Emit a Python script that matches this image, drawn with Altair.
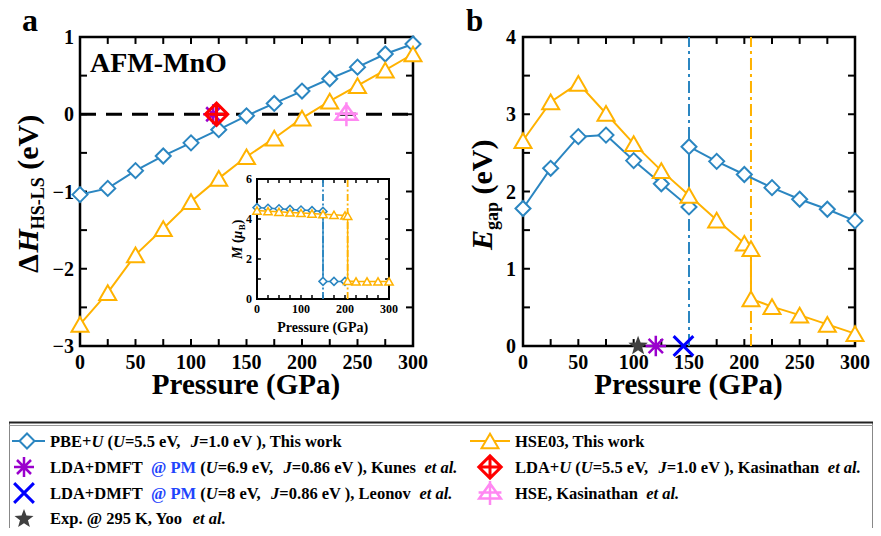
import math
import altair as alt
import pandas as pd

FONT = "Liberation Serif"
BLUE = "#2B86C1"
ORANGE = "#FFB200"
PURPLE = "#9A00CD"
RED = "#FF0000"
PINK = "#FF88F2"
XBLUE = "#0000FF"
STARC = "#404040"
LINK = "#1F45FC"

# ---------------- data ----------------
pressure = [0, 25, 50, 75, 100, 125, 150, 175, 200, 225, 250, 275, 300]
dH_pbe = [-1.04, -0.96, -0.73, -0.54, -0.37, -0.20, -0.02, 0.14, 0.30, 0.46, 0.61, 0.78, 0.91]
dH_hse = [-2.72, -2.31, -1.82, -1.48, -1.13, -0.83, -0.55, -0.31, -0.05, 0.17, 0.37, 0.57, 0.78]

gap_p_pbe = [0, 25, 50, 75, 100, 125, 150, 150, 175, 200, 225, 250, 275, 300]
gap_pbe = [1.78, 2.30, 2.71, 2.73, 2.40, 2.10, 1.80, 2.58, 2.39, 2.22, 2.05, 1.90, 1.77, 1.62]
gap_p_hse = [0, 25, 50, 75, 100, 125, 150, 175, 200, 206, 206, 225, 250, 275, 300]
gap_hse = [2.66, 3.16, 3.40, 3.01, 2.62, 2.27, 1.95, 1.63, 1.33, 1.26, 0.61, 0.51, 0.40, 0.28, 0.16]

mom_p_pbe = [0, 25, 50, 75, 100, 125, 150, 150, 175, 200]
mom_pbe = [4.57, 4.54, 4.51, 4.48, 4.45, 4.42, 4.38, 0.88, 0.88, 0.88]
mom_p_hse = [0, 25, 50, 75, 100, 125, 150, 175, 200, 206, 206, 225, 250, 275, 300]
mom_hse = [4.42, 4.39, 4.36, 4.33, 4.30, 4.27, 4.24, 4.21, 4.18, 4.16, 0.90, 0.88, 0.88, 0.88, 0.88]

trans_pbe = 150
trans_hse = 206

# literature: crossover pressure (dH = 0) and metallisation pressure (Egap = 0)
ref_a_kunes, ref_a_ldau, ref_a_hse = 120, 123, 240
ref_b_yoo, ref_b_kunes, ref_b_leonov = 104, 120, 145

xticks = [0, 25, 50, 75, 100, 125, 150, 175, 200, 225, 250, 275, 300]
xlabels = [0, 50, 100, 150, 200, 250, 300]
ya_ticks = [-3, -2.5, -2, -1.5, -1, -0.5, 0, 0.5, 1]
ya_labels = [1, 0, -1, -2, -3]
yb_ticks = [0, 0.5, 1, 1.5, 2, 2.5, 3, 3.5, 4]
yb_labels = [0, 1, 2, 3, 4]
yi_ticks = [0, 1, 2, 3, 4, 5, 6]
yi_labels = [0, 2, 4, 6]
xi_labels = [0, 100, 200, 300]

# ---------------- geometry ----------------
M = 8
def cx(x): return x - M
def cy(y): return y - M

def S(d, r):
    return alt.Scale(domain=d, range=r, nice=False, zero=False)

sA_x = S([0, 300], [cx(80), cx(413)]); sA_y = S([-3, 1], [cy(346), cy(37)])
sB_x = S([0, 300], [cx(523), cx(855)]); sB_y = S([0, 4], [cy(346), cy(37)])
sI_x = S([0, 300], [cx(257), cx(389)]); sI_y = S([0, 6], [cy(299), cy(179)])

def X(f, s): return alt.X(f"{f}:Q", scale=s, axis=None)
def Y(f, s): return alt.Y(f"{f}:Q", scale=s, axis=None)

def fmt(v):
    return f"{v:g}".replace("-", "\u2212")

def frame(sx, sy, xd, yd, sw, fo=0):
    df = pd.DataFrame({"x0": [xd[0]], "x1": [xd[1]], "y0": [yd[0]], "y1": [yd[1]]})
    return alt.Chart(df).mark_rect(fill="white", fillOpacity=fo, stroke="black", strokeWidth=sw).encode(
        x=X("x0", sx), x2="x1", y=Y("y0", sy), y2="y1")

def axes(sx, sy, xd, yd, xt, yt, lx, ly, sw, xl, yl, fs, xdy, ydx, ydy):
    L = []
    for a, b in [(yd[0], yd[0] + ly), (yd[1], yd[1] - ly)]:
        df = pd.DataFrame({"v": xt, "a": [a] * len(xt), "b": [b] * len(xt)})
        L.append(alt.Chart(df).mark_rule(color="black", strokeWidth=sw).encode(x=X("v", sx), y=Y("a", sy), y2="b"))
    for a, b in [(xd[0], xd[0] + lx), (xd[1], xd[1] - lx)]:
        df = pd.DataFrame({"v": yt, "a": [a] * len(yt), "b": [b] * len(yt)})
        L.append(alt.Chart(df).mark_rule(color="black", strokeWidth=sw).encode(y=Y("v", sy), x=X("a", sx), x2="b"))
    dfx = pd.DataFrame({"v": xl, "a": [yd[0]] * len(xl), "t": [fmt(v) for v in xl]})
    L.append(alt.Chart(dfx).mark_text(font=FONT, fontWeight="bold", fontSize=fs, align="center",
                                      baseline="alphabetic", dy=xdy, color="black").encode(
        x=X("v", sx), y=Y("a", sy), text="t:N"))
    dfy = pd.DataFrame({"v": yl, "a": [xd[0]] * len(yl), "t": [fmt(v) for v in yl]})
    L.append(alt.Chart(dfy).mark_text(font=FONT, fontWeight="bold", fontSize=fs, align="right",
                                      baseline="alphabetic", dx=ydx, dy=ydy, color="black").encode(
        x=X("a", sx), y=Y("v", sy), text="t:N"))
    return L

def series(p, vals, sx, sy, color, shape, size, sw, lw):
    df = pd.DataFrame({"p": p, "v": vals, "i": list(range(len(vals)))})
    base = alt.Chart(df).encode(x=X("p", sx), y=Y("v", sy), order=alt.Order("i:Q"))
    return [base.mark_line(color=color, strokeWidth=lw),
            base.mark_point(shape=shape, size=size, filled=True, fill="white", stroke=color,
                            strokeWidth=sw, opacity=1)]

def vline(p, sx, sy, yd, color, dash, sw):
    df = pd.DataFrame({"p": [p], "a": [yd[0]], "b": [yd[1]]})
    return alt.Chart(df).mark_rule(color=color, strokeWidth=sw, strokeDash=dash).encode(
        x=X("p", sx), y=Y("a", sy), y2="b")

def marker(p, v, sx, sy, shape, size, color, sw, filled=False):
    df = pd.DataFrame({"p": [p], "v": [v]})
    if filled:
        m = alt.Chart(df).mark_point(shape=shape, size=size, filled=True, color=color, opacity=1)
    else:
        m = alt.Chart(df).mark_point(shape=shape, size=size, filled=False, color=color,
                                     strokeWidth=sw, opacity=1)
    return m.encode(x=X("p", sx), y=Y("v", sy))

# custom symbol shapes
ASTER = "M0,-1L0,1M-1,0L1,0M-0.7,-0.7L0.7,0.7M-0.7,0.7L0.7,-0.7"
CROSSX = "M-0.9,-0.9L0.9,0.9M-0.9,0.9L0.9,-0.9"
DIAMP = "M0,-1L1,0L0,1L-1,0Z M0,-1L0,1 M-1,0L1,0"
TRIP = "M0,-0.8L0.9,0.45L-0.9,0.45Z M0,-1L0,1 M-0.95,-0.05L0.95,-0.05"
pts = []
for k in range(10):
    r = 1.0 if k % 2 == 0 else 0.42
    a = math.radians(-90 + 36 * k)
    pts.append(f"{r * math.cos(a):.3f},{r * math.sin(a):.3f}")
STAR = "M" + "L".join(pts) + "Z"

DASHDOT = [12, 4, 3, 4]

# ---------------- panel a ----------------
panelA = alt.layer(
    frame(sA_x, sA_y, [0, 300], [-3, 1], 2.5),
    *axes(sA_x, sA_y, [0, 300], [-3, 1], xticks, ya_ticks, 6.3, 0.09, 2, xlabels, ya_labels, 20, 23, -6, 7),
    alt.Chart(pd.DataFrame({"a": [0], "b": [300], "v": [0]})).mark_rule(
        color="black", strokeWidth=3, strokeDash=[16, 10]).encode(x=X("a", sA_x), x2="b", y=Y("v", sA_y)),
    *series(pressure, dH_pbe, sA_x, sA_y, BLUE, "diamond", 225, 2, 2),
    *series(pressure, dH_hse, sA_x, sA_y, ORANGE, "triangle-up", 289, 2, 2),
    marker(ref_a_kunes, 0, sA_x, sA_y, ASTER, 400, PURPLE, 2.5),
    marker(ref_a_ldau, 0, sA_x, sA_y, DIAMP, 500, RED, 3),
    marker(ref_a_hse, 0, sA_x, sA_y, TRIP, 576, PINK, 2.5),
)

inset = alt.layer(
    frame(sI_x, sI_y, [0, 300], [0, 6], 2, fo=1),
    *axes(sI_x, sI_y, [0, 300], [0, 6], xticks, yi_ticks, 9, 0.2, 1.5, xi_labels, yi_labels, 12, 14, -5, 4),
    vline(trans_pbe, sI_x, sI_y, [0, 6], BLUE, [7, 2.5, 2, 2.5], 1.8),
    vline(trans_hse, sI_x, sI_y, [0, 6], ORANGE, [7, 2.5, 2, 2.5], 1.8),
    *series(mom_p_pbe, mom_pbe, sI_x, sI_y, BLUE, "diamond", 64, 1.5, 1.5),
    *series(mom_p_hse, mom_hse, sI_x, sI_y, ORANGE, "triangle-up", 70, 1.5, 1.5),
)

# ---------------- panel b ----------------
panelB = alt.layer(
    frame(sB_x, sB_y, [0, 300], [0, 4], 2.5),
    *axes(sB_x, sB_y, [0, 300], [0, 4], xticks, yb_ticks, 6.3, 0.09, 2, xlabels, yb_labels, 20, 23, -7, 7),
    vline(trans_pbe, sB_x, sB_y, [0, 4], BLUE, DASHDOT, 2),
    vline(trans_hse, sB_x, sB_y, [0, 4], ORANGE, DASHDOT, 2),
    *series(gap_p_pbe, gap_pbe, sB_x, sB_y, BLUE, "diamond", 225, 2, 2),
    *series(gap_p_hse, gap_hse, sB_x, sB_y, ORANGE, "triangle-up", 289, 2, 2),
    marker(ref_b_yoo, 0, sB_x, sB_y, STAR, 420, STARC, 1, filled=True),
    marker(ref_b_kunes, 0, sB_x, sB_y, ASTER, 420, PURPLE, 2.5),
    marker(ref_b_leonov, 0, sB_x, sB_y, CROSSX, 480, XBLUE, 3),
)

# ---------------- rich text ----------------
TB = {' ': 250, '(': 333, ')': 333, '+': 570, '=': 570, ',': 250, '.': 250, '@': 930, '-': 333,
      'A': 722, 'B': 667, 'C': 722, 'D': 722, 'E': 667, 'F': 611, 'G': 778, 'H': 778, 'I': 389,
      'J': 500, 'K': 778, 'L': 667, 'M': 944, 'N': 722, 'O': 778, 'P': 611, 'S': 556, 'T': 667,
      'U': 722, 'V': 722, 'W': 1000, 'X': 722, 'Y': 722,
      'a': 500, 'b': 556, 'c': 444, 'd': 556, 'e': 444, 'f': 333, 'g': 500, 'h': 556, 'i': 278,
      'k': 556, 'l': 278, 'm': 833, 'n': 556, 'o': 500, 'p': 556, 'r': 444, 's': 389, 't': 333,
      'u': 556, 'v': 500, 'w': 722, 'x': 500, 'y': 500, '\u0394': 680, '\u03bc': 576}
for d in '0123456789':
    TB[d] = 500
TBI = dict(TB)
TBI.update({'M': 889, 't': 278, 'H': 778, 'E': 667, 'J': 500, 'U': 722})

def width(text, style, size):
    tbl = TBI if style == "bi" else TB
    return sum(tbl.get(c, 500) for c in text) / 1000 * size

def run_h(segs, x0, y0):
    out, x = [], x0
    for text, style, size in segs:
        st = text.lstrip(" ")
        x += width(text[:len(text) - len(st)], "b", size)
        t = st.rstrip(" ")
        if t:
            out.append(dict(x=cx(x), y=cy(y0), text=t, style=style, size=size))
        x += width(st, style, size)
    return out

def run_v(segs, xb, y0):
    out, y = [], y0
    for text, style, size, shift in segs:
        st = text.lstrip(" ")
        y -= width(text[:len(text) - len(st)], "b", size)
        t = st.rstrip(" ")
        if t:
            out.append(dict(x=cx(xb + shift), y=cy(y), text=t, style=style, size=size))
        y -= width(st, style, size)
    return out

def text_layers(items, angle=0):
    df = pd.DataFrame(items)
    L = []
    for (style, size), g in df.groupby(["style", "size"]):
        L.append(alt.Chart(g.reset_index(drop=True)).mark_text(
            font=FONT, fontSize=float(size), fontWeight="bold",
            fontStyle="italic" if style == "bi" else "normal",
            color=LINK if style == "blue" else "black",
            align="left", baseline="alphabetic", angle=angle).encode(
            x=alt.X("x:Q", scale=None, axis=None), y=alt.Y("y:Q", scale=None, axis=None), text="text:N"))
    return L

FS = 16.5
legend_left = [
    [("PBE+", "b", FS), ("U", "bi", FS), (" (", "b", FS), ("U", "bi", FS), ("=5.5 eV,  ", "b", FS),
     ("J", "bi", FS), ("=1.0 eV ), This work", "b", FS)],
    [("LDA+DMFT  ", "b", FS), ("@ PM", "blue", FS), (" (", "b", FS), ("U", "bi", FS), ("=6.9 eV,  ", "b", FS),
     ("J", "bi", FS), ("=0.86 eV ), Kunes  ", "b", FS), ("et al.", "bi", FS)],
    [("LDA+DMFT  ", "b", FS), ("@ PM", "blue", FS), (" (", "b", FS), ("U", "bi", FS), ("=8 eV,  ", "b", FS),
     ("J", "bi", FS), ("=0.86 eV ), Leonov  ", "b", FS), ("et al.", "bi", FS)],
    [("Exp. @ 295 K, Yoo  ", "b", FS), ("et al.", "bi", FS)],
]
legend_right = [
    [("HSE03, This work", "b", FS)],
    [("LDA+", "b", FS), ("U", "bi", FS), (" (", "b", FS), ("U", "bi", FS), ("=5.5 eV,  ", "b", FS),
     ("J", "bi", FS), ("=1.0 eV ), Kasinathan  ", "b", FS), ("et al.", "bi", FS)],
    [("HSE, Kasinathan  ", "b", FS), ("et al.", "bi", FS)],
]
row_base = [447, 473, 499, 524]

h_items = []
for r, segs in enumerate(legend_left):
    h_items += run_h(segs, 50, row_base[r])
for r, segs in enumerate(legend_right):
    h_items += run_h(segs, 515, row_base[r])
h_items += run_h([("a", "b", 32)], 22, 31)
h_items += run_h([("b", "b", 31)], 466, 31)
h_items += run_h([("AFM-MnO", "b", 28)], 90, 72)
pw = width("Pressure (GPa)", "b", 29)
h_items += run_h([("Pressure (GPa)", "b", 29)], 246.5 - pw / 2, 394)
h_items += run_h([("Pressure (GPa)", "b", 29)], 689 - pw / 2, 394)
iw = width("Pressure (GPa)", "b", 14)
h_items += run_h([("Pressure (GPa)", "b", 14)], 323 - iw / 2, 332)

v_items = []
v_items += run_v([("\u0394", "b", 30, 0), ("H", "bi", 30, 0), ("HS-LS", "b", 18, 6), (" (eV)", "b", 30, 0)], 38, 273)
v_items += run_v([("E", "bi", 30, 0), ("gap", "b", 18, 6), (" (eV)", "b", 30, 0)], 492, 250)
v_items += run_v([("M", "bi", 14, 0), (" (", "b", 14, 0), ("\u03bc", "bi", 14, 0), ("B", "b", 9, 3),
                  (")", "b", 14, 0)], 242, 259)

# ---------------- legend graphics ----------------
def PX(f): return alt.X(f"{f}:Q", scale=None, axis=None)
def PY(f): return alt.Y(f"{f}:Q", scale=None, axis=None)

def px_point(x, y, shape, size, color, sw, mode="stroke"):
    df = pd.DataFrame({"x": [cx(x)], "y": [cy(y)]})
    if mode == "fill":
        m = alt.Chart(df).mark_point(shape=shape, size=size, filled=True, color=color, opacity=1)
    elif mode == "white":
        m = alt.Chart(df).mark_point(shape=shape, size=size, filled=True, fill="white", stroke=color,
                                     strokeWidth=sw, opacity=1)
    else:
        m = alt.Chart(df).mark_point(shape=shape, size=size, filled=False, color=color, strokeWidth=sw, opacity=1)
    return m.encode(x=PX("x"), y=PY("y"))

def px_hrule(x1, x2, y, color, sw):
    df = pd.DataFrame({"x": [cx(x1)], "x2": [cx(x2)], "y": [cy(y)]})
    return alt.Chart(df).mark_rule(color=color, strokeWidth=sw).encode(x=PX("x"), x2="x2", y=PY("y"))

def px_vrule(x, y1, y2, color, sw):
    df = pd.DataFrame({"x": [cx(x)], "y": [cy(y1)], "y2": [cy(y2)]})
    return alt.Chart(df).mark_rule(color=color, strokeWidth=sw).encode(x=PX("x"), y=PY("y"), y2="y2")

sym_y = [441, 467, 493, 519]
legend = alt.layer(
    px_vrule(9.5, 422, 528, "#888888", 1),
    px_vrule(872.5, 422, 528, "#888888", 1),
    px_hrule(9, 873, 422.5, "#222222", 2),
    px_hrule(9, 873, 425.5, "#999999", 1),
    px_hrule(12, 45, sym_y[0], BLUE, 2),
    px_point(27, sym_y[0], "diamond", 225, BLUE, 2, "white"),
    px_point(24, sym_y[1], ASTER, 400, PURPLE, 2.5),
    px_point(24, sym_y[2], CROSSX, 480, XBLUE, 3),
    px_point(24, sym_y[3], STAR, 400, STARC, 1, "fill"),
    px_hrule(470, 510, sym_y[0], ORANGE, 2),
    px_point(490, sym_y[0], "triangle-up", 289, ORANGE, 2, "white"),
    px_point(490, sym_y[1], DIAMP, 500, RED, 3),
    px_point(490, sym_y[2], TRIP, 576, PINK, 2.5),
)

annot = alt.layer(legend, *text_layers(h_items, 0), *text_layers(v_items, 270))

chart = alt.layer(panelA, inset, panelB, annot).resolve_scale(
    x="independent", y="independent").properties(
    width=865, height=520, autosize=alt.AutoSizeParams(type="none"), padding=0,
    background="white").configure_view(stroke=None)

chart.save("out.html", embed_options={"renderer": "svg", "actions": False})
